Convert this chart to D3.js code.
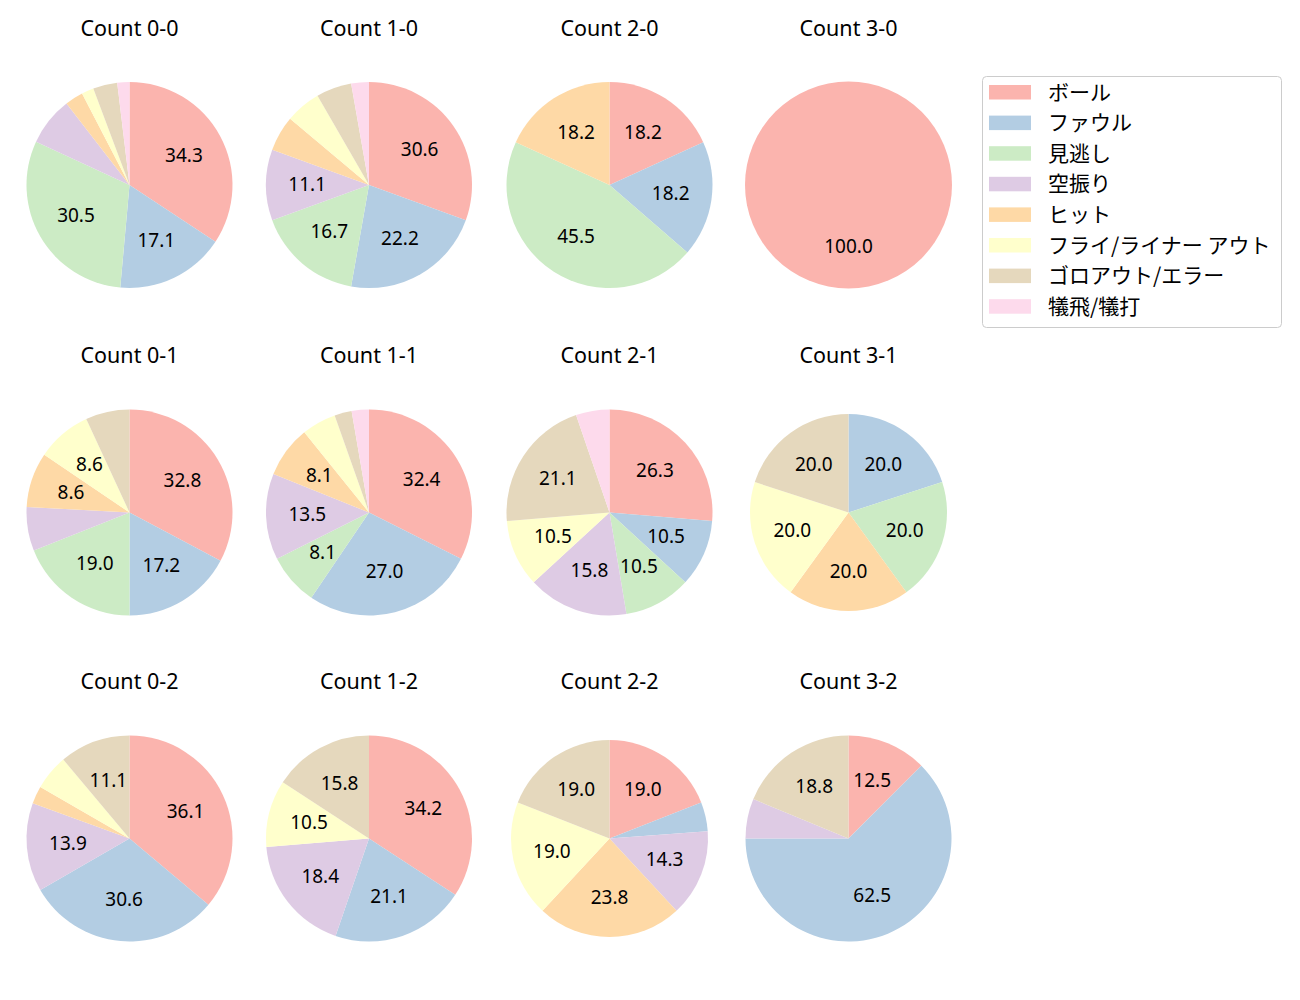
<!DOCTYPE html>
<html><head><meta charset="utf-8">
<script src="https://cdn.jsdelivr.net/npm/d3@7"></script>
<style>
body{margin:0;background:#fff;}
svg{display:block;font-family:"Noto Sans","Noto Sans CJK JP",sans-serif;}
</style></head>
<body><svg id="chart" width="1300" height="1000"></svg>
<script>
// Categories (legend order)
const categories = ["ボール","ファウル","見逃し","空振り","ヒット","フライ/ライナー アウト","ゴロアウト/エラー","犠飛/犠打"];
const colors = ["#fbb4ae","#b3cde3","#ccebc5","#decbe4","#fed9a6","#ffffcc","#e5d8bd","#fddaec"];
// Panel titles (row-major)
const titles = ["Count 0-0","Count 1-0","Count 2-0","Count 3-0",
                "Count 0-1","Count 1-1","Count 2-1","Count 3-1",
                "Count 0-2","Count 1-2","Count 2-2","Count 3-2"];
// Pitch outcome counts per ball-strike count, in category order
const count00 = [36, 18, 32, 8, 3, 2, 4, 2];
const count10 = [11, 8, 6, 4, 2, 2, 2, 1];
const count20 = [2, 2, 5, 0, 2, 0, 0, 0];
const count30 = [1, 0, 0, 0, 0, 0, 0, 0];
const count01 = [19, 10, 11, 4, 5, 5, 4, 0];
const count11 = [12, 10, 3, 5, 3, 2, 1, 1];
const count21 = [5, 2, 2, 3, 0, 2, 4, 1];
const count31 = [0, 1, 1, 0, 1, 1, 1, 0];
const count02 = [13, 11, 0, 5, 1, 2, 4, 0];
const count12 = [13, 8, 0, 7, 0, 4, 6, 0];
const count22 = [4, 1, 0, 3, 5, 4, 4, 0];
const count32 = [2, 10, 0, 1, 0, 0, 3, 0];
const panelValues = [count00,count10,count20,count30,count01,count11,count21,count31,count02,count12,count22,count32];

// Layout
const colX = [129.5, 369, 609.5, 848.5];
const rowY = [185, 512.5, 838.5];
const titleY = [36, 363, 689];
const radii = [103,103,103,103.5, 103,103,103,98.5, 103,103,98.5,103];

const svg = d3.select("#chart");
const color = d3.scaleOrdinal().domain(categories).range(colors);
const pie = d3.pie().sort(null).value(d => d.v);

panelValues.forEach((vals, i) => {
  const cx = colX[i % 4], cy = rowY[Math.floor(i / 4)];
  const r = radii[i];
  const total = d3.sum(vals);
  const data = vals.map((v, k) => ({cat: categories[k], v}));
  const arcs = pie(data);
  const arc = d3.arc().innerRadius(0).outerRadius(r);
  const g = svg.append("g").attr("transform", `translate(${cx},${cy})`);
  g.selectAll("path").data(arcs.filter(a => a.data.v > 0)).join("path")
    .attr("d", arc).attr("fill", a => color(a.data.cat));
  const lab = d3.arc().innerRadius(0.6 * r).outerRadius(0.6 * r);
  g.selectAll("text").data(arcs.filter(a => a.data.v / total * 100 >= 8)).join("text")
    .attr("transform", a => `translate(${lab.centroid(a)})`)
    .attr("text-anchor", "middle").attr("dy", "0.32em")
    .attr("font-size", 19).attr("fill", "#000")
    .text(a => (a.data.v / total * 100).toFixed(1));
  svg.append("text").attr("x", cx).attr("y", titleY[Math.floor(i / 4)])
    .attr("text-anchor", "middle").attr("font-size", 21.5).attr("fill", "#000")
    .text(titles[i]);
});

// Legend
const lg = svg.append("g").attr("transform", "translate(982,76)");
lg.append("rect").attr("x", 0.5).attr("y", 0.5).attr("width", 299).attr("height", 251)
  .attr("rx", 4).attr("fill", "#fff").attr("stroke", "#cccccc");
categories.forEach((c, k) => {
  const y = 16 + k * 30.6;
  lg.append("rect").attr("x", 7).attr("y", y - 7).attr("width", 42).attr("height", 14.5).attr("fill", color(c));
  lg.append("text").attr("x", 66).attr("y", y).attr("dy", "0.36em")
    .attr("font-family", "'Noto Sans CJK JP'")
    .attr("font-size", 21).attr("fill", "#000").text(c);
});
</script></body></html>
